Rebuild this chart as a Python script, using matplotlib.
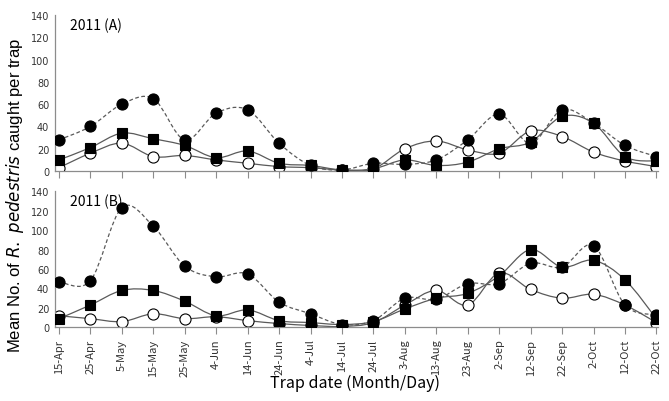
import numpy as np
import matplotlib
matplotlib.use("Agg")
import matplotlib.pyplot as plt
from matplotlib.path import Path
from matplotlib.patches import PathPatch

dates = ["15-Apr", "25-Apr", "5-May", "15-May", "25-May", "4-Jun", "14-Jun", "24-Jun",
         "4-Jul", "14-Jul", "24-Jul", "3-Aug", "13-Aug", "23-Aug", "2-Sep", "12-Sep",
         "22-Sep", "2-Oct", "12-Oct", "22-Oct"]

# 2011 (A)
a_filled = [28, 40, 60, 65, 28, 52, 55, 25, 5, 1, 7, 6, 10, 28, 51, 25, 55, 43, 23, 13]
a_square = [10, 21, 34, 29, 23, 12, 18, 7, 5, 1, 2, 10, 5, 8, 20, 26, 49, 43, 13, 9]
a_open = [3, 16, 25, 13, 14, 10, 7, 4, 3, 1, 2, 20, 27, 19, 16, 36, 31, 17, 9, 4]

# 2011 (B)
b_filled = [47, 48, 123, 104, 63, 52, 55, 26, 14, 3, 7, 30, 29, 45, 45, 66, 62, 84, 23, 13]
b_square = [9, 23, 38, 38, 27, 12, 18, 7, 5, 3, 6, 19, 30, 35, 53, 80, 62, 69, 49, 9]
b_open = [12, 9, 6, 14, 9, 11, 7, 4, 2, 1, 5, 23, 38, 23, 56, 39, 30, 34, 23, 5]

LINE = "#5a5a5a"
KR = ["Noto Sans CJK KR", "DejaVu Sans"]


def smooth_path(x, y):
    # Excel-style smoothed line as cubic bezier segments
    p = np.column_stack([x, y]).astype(float)
    n = len(p)
    verts = [p[0]]
    codes = [Path.MOVETO]
    for i in range(n - 1):
        p0 = p[i - 1] if i > 0 else p[i]
        p3 = p[i + 2] if i + 2 < n else p[i + 1]
        c1 = p[i] + (p[i + 1] - p0) / 6
        c2 = p[i + 1] - (p3 - p[i]) / 6
        verts += [c1, c2, p[i + 1]]
        codes += [Path.CURVE4] * 3
    return Path(verts, codes)


def draw_series(ax, y, marker, face, ms, ls, z):
    x = np.arange(len(y))
    ax.add_patch(PathPatch(smooth_path(x, y), fill=False, edgecolor=LINE, lw=0.9,
                           ls=ls, zorder=z))
    ax.plot(x, y, ls="none", marker=marker, ms=ms, mfc=face, mec="black",
            mew=0.8, zorder=z + 0.5)


def panel(ax, filled, square, opn, title, labels):
    draw_series(ax, opn, "o", "white", 8, "-", 2)
    draw_series(ax, square, "s", "black", 6.5, "-", 3)
    draw_series(ax, filled, "o", "black", 8, (0, (3, 2)), 4)
    ax.set_xlim(-0.13, 19.05)
    ax.set_ylim(0, 140)
    ax.set_yticks(range(0, 141, 20))
    ax.set_xticks(range(len(dates)))
    if labels:
        ax.set_xticklabels(dates, rotation=90, fontsize=8, color="#333333", family=KR)
    else:
        ax.set_xticklabels([])
    for t in ax.get_yticklabels():
        t.set_fontsize(7)
        t.set_color("#333333")
    for s in ["top", "right"]:
        ax.spines[s].set_visible(False)
    for s in ["left", "bottom"]:
        ax.spines[s].set_color("#8c8c8c")
        ax.spines[s].set_linewidth(0.9)
    ax.tick_params(axis="y", length=0, pad=4)
    ax.tick_params(axis="x", length=5, color="#8c8c8c", pad=3)
    ax.text(0.025, 0.985, title, transform=ax.transAxes, fontsize=10, va="top", family=KR)


fig = plt.figure(figsize=(6.69, 4.02), dpi=100)
ax1 = fig.add_axes([0.082, 0.572, 0.9015, 0.388])
ax2 = fig.add_axes([0.082, 0.183, 0.9015, 0.339])
panel(ax1, a_filled, a_square, a_open, "2011 (A)", False)
panel(ax2, b_filled, b_square, b_open, "2011 (B)", True)

fig.text(0.022, 0.515, "Mean No. of $\\it{R.\\ pedestris}$ caught per trap", rotation=90,
         ha="center", va="center", fontsize=12, family="Liberation Sans")
fig.text(0.53, 0.047, "Trap date (Month/Day)", ha="center", va="center", fontsize=11.5,
         family=KR)

fig.savefig("out.png", dpi=100)
